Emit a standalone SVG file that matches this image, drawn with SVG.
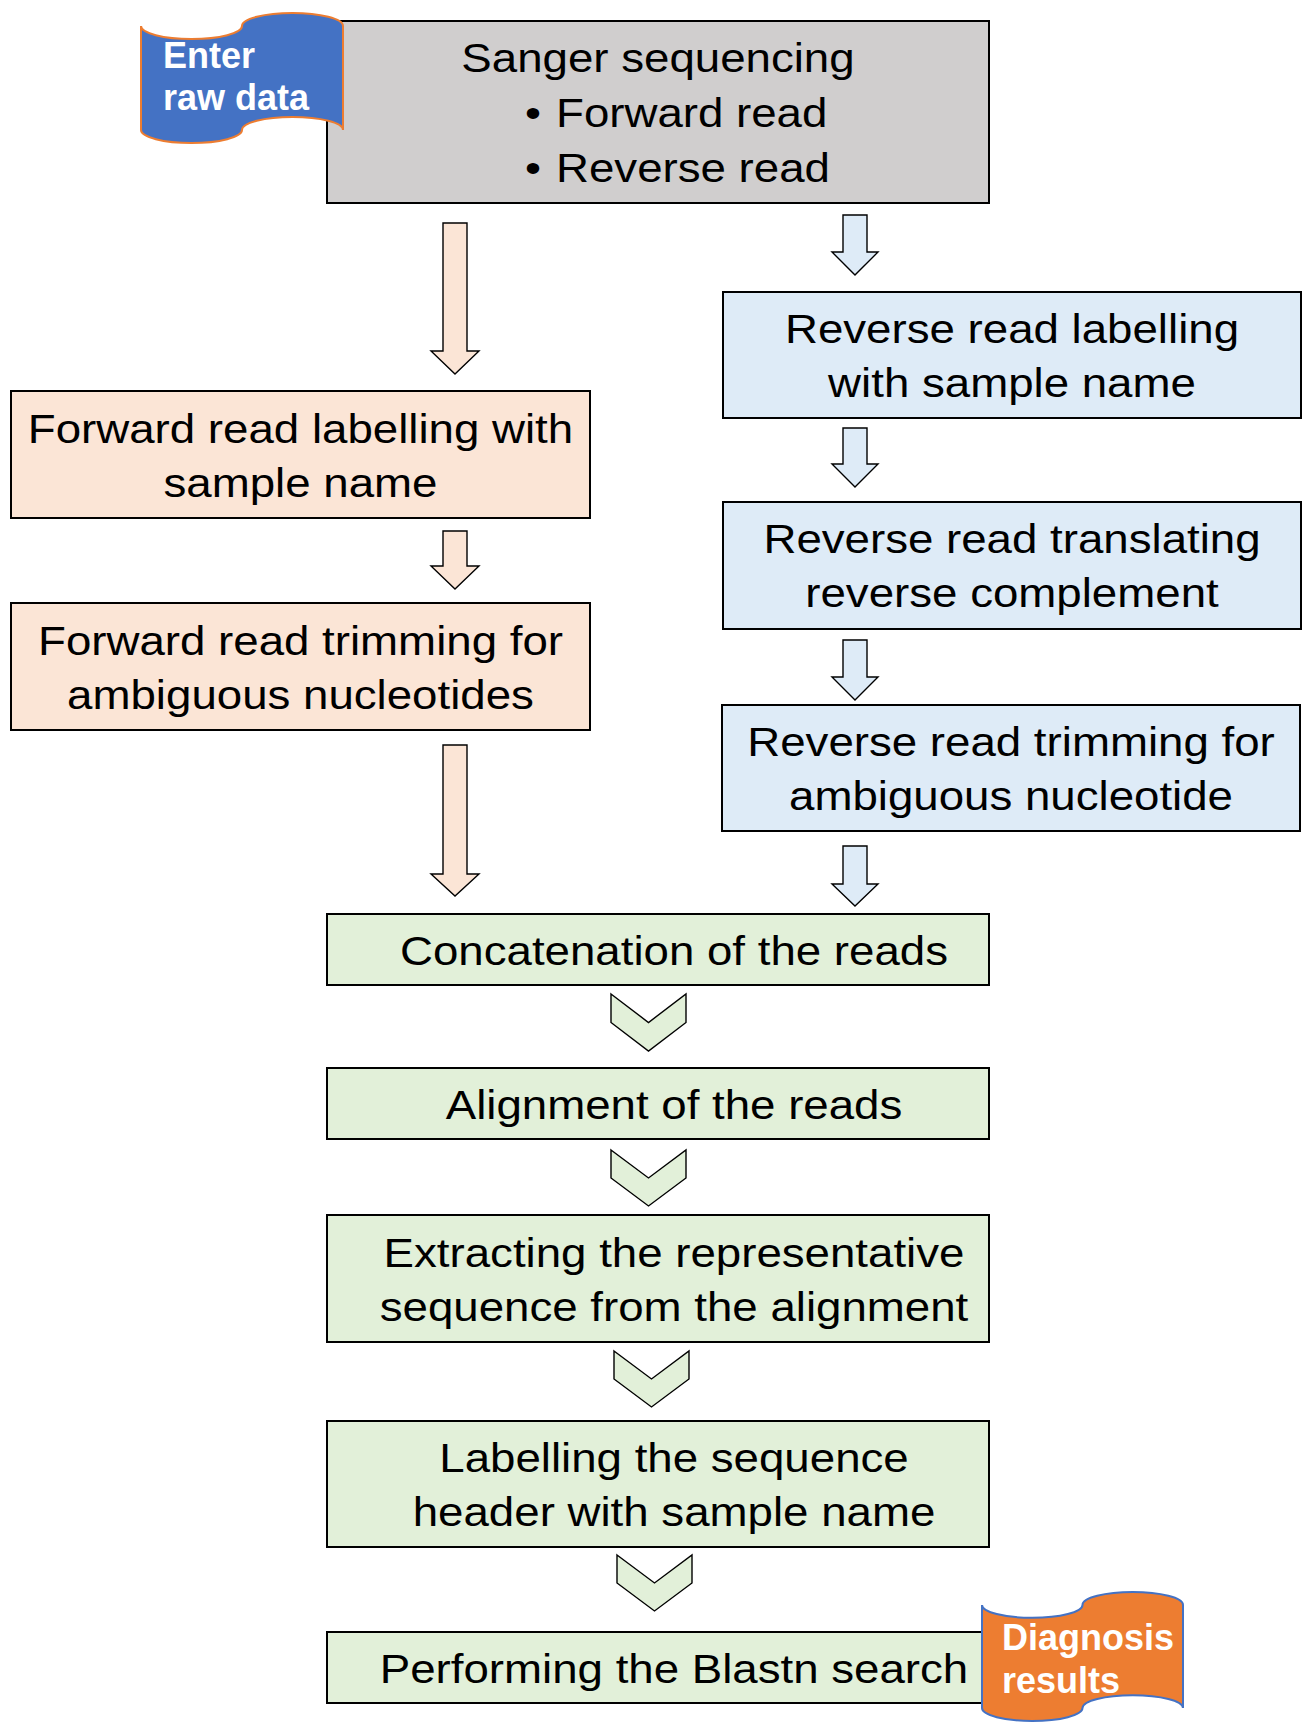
<svg xmlns="http://www.w3.org/2000/svg" width="1311" height="1730" viewBox="0 0 1311 1730">
<style>
.box{stroke:#000;stroke-width:2}
.gray{fill:#D0CECE}.peach{fill:#FBE5D6}.blue{fill:#DEEBF7}.green{fill:#E2F0D9}
.arr{stroke:#000;stroke-width:1.4;stroke-linejoin:miter}
.t{font-family:"Liberation Sans",Arial,sans-serif;font-size:41.5px;fill:#000;text-anchor:middle}
.ts{font-family:"Liberation Sans",Arial,sans-serif;font-size:41.5px;fill:#000;text-anchor:start}
.w{font-family:"Liberation Sans",Arial,sans-serif;font-weight:bold;fill:#fff;text-anchor:start}
</style>
<rect width="1311" height="1730" fill="#fff"/>
<g id="connectors">
<path class="arr peach" d="M443,223 H467 V351 H479 L455,374 L431,351 H443 Z"/>
<path class="arr peach" d="M443,531 H467 V566 H479 L455,589 L431,566 H443 Z"/>
<path class="arr peach" d="M443,745 H467 V874 H479 L455,896 L431,874 H443 Z"/>
<path class="arr blue" d="M843,215 H867 V252 H878 L855,275 L832,252 H843 Z"/>
<path class="arr blue" d="M843,428 H867 V464 H878 L855,487 L832,464 H843 Z"/>
<path class="arr blue" d="M843,640 H867 V677 H878 L855,700 L832,677 H843 Z"/>
<path class="arr blue" d="M843,846 H867 V884 H878 L855,906 L832,884 H843 Z"/>
<path class="arr green" d="M611,994 L648.5,1022.5 L686,994 L686,1022.5 L648.5,1051 L611,1022.5 Z"/>
<path class="arr green" d="M611,1150 L648.5,1178 L686,1150 L686,1178 L648.5,1206 L611,1178 Z"/>
<path class="arr green" d="M614,1351 L651.5,1379 L689,1351 L689,1379 L651.5,1407 L614,1379 Z"/>
<path class="arr green" d="M617,1555 L654.5,1583 L692,1555 L692,1583 L654.5,1611 L617,1583 Z"/>
</g>
<g id="sanger">
<rect class="box gray" x="327" y="21" width="662" height="182"/>
<text class="t" transform="translate(658,72) scale(1.1,1)">Sanger sequencing</text>
<text class="t" transform="translate(533,127) scale(1.1,1)">•</text>
<text class="ts" transform="translate(556,127) scale(1.1,1)">Forward read</text>
<text class="t" transform="translate(533,182) scale(1.1,1)">•</text>
<text class="ts" transform="translate(556,182) scale(1.1,1)">Reverse read</text>
</g>
<g id="enter-raw-data">
<path d="M141,26 A50.5,13 0 0 0 242,26 A50.5,13 0 0 1 343,26 L343,130 A50.5,13 0 0 0 242,130 A50.5,13 0 0 1 141,130 Z" fill="#4472C4" stroke="#ED7D31" stroke-width="2"/>
<text class="w" x="163" y="68" font-size="36">Enter</text>
<text class="w" x="163" y="110" font-size="36">raw data</text>
</g>
<g id="fwd-label">
<rect class="box peach" x="11" y="391" width="579" height="127"/>
<text class="t" transform="translate(300.5,443) scale(1.1,1)">Forward read labelling with</text>
<text class="t" transform="translate(300.5,497) scale(1.1,1)">sample name</text>
</g>
<g id="fwd-trim">
<rect class="box peach" x="11" y="603" width="579" height="127"/>
<text class="t" transform="translate(300.5,655) scale(1.1,1)">Forward read trimming for</text>
<text class="t" transform="translate(300.5,709) scale(1.1,1)">ambiguous nucleotides</text>
</g>
<g id="rev-label">
<rect class="box blue" x="723" y="292" width="578" height="126"/>
<text class="t" transform="translate(1012,343) scale(1.1,1)">Reverse read labelling</text>
<text class="t" transform="translate(1012,397) scale(1.1,1)">with sample name</text>
</g>
<g id="rev-translate">
<rect class="box blue" x="723" y="502" width="578" height="127"/>
<text class="t" transform="translate(1012,553) scale(1.1,1)">Reverse read translating</text>
<text class="t" transform="translate(1012,607) scale(1.1,1)">reverse complement</text>
</g>
<g id="rev-trim">
<rect class="box blue" x="722" y="705" width="578" height="126"/>
<text class="t" transform="translate(1011,756) scale(1.1,1)">Reverse read trimming for</text>
<text class="t" transform="translate(1011,810) scale(1.1,1)">ambiguous nucleotide</text>
</g>
<g id="concat">
<rect class="box green" x="327" y="914" width="662" height="71"/>
<text class="t" transform="translate(674,965) scale(1.1,1)">Concatenation of the reads</text>
</g>
<g id="align">
<rect class="box green" x="327" y="1068" width="662" height="71"/>
<text class="t" transform="translate(674,1119) scale(1.1,1)">Alignment of the reads</text>
</g>
<g id="extract">
<rect class="box green" x="327" y="1215" width="662" height="127"/>
<text class="t" transform="translate(674,1267) scale(1.1,1)">Extracting the representative</text>
<text class="t" transform="translate(674,1321) scale(1.1,1)">sequence from the alignment</text>
</g>
<g id="label-header">
<rect class="box green" x="327" y="1421" width="662" height="126"/>
<text class="t" transform="translate(674,1472) scale(1.1,1)">Labelling the sequence</text>
<text class="t" transform="translate(674,1526) scale(1.1,1)">header with sample name</text>
</g>
<g id="blastn">
<rect class="box green" x="327" y="1632" width="662" height="71"/>
<text class="t" transform="translate(674,1683) scale(1.1,1)">Performing the Blastn search</text>
</g>
<g id="diagnosis-results">
<path d="M982,1604.9 A50.25,12.9 0 0 0 1082.5,1604.9 A50.25,12.9 0 0 1 1183,1604.9 L1183,1708.1 A50.25,12.9 0 0 0 1082.5,1708.1 A50.25,12.9 0 0 1 982,1708.1 Z" fill="#ED7D31" stroke="#4472C4" stroke-width="2"/>
<text class="w" x="1002" y="1650" font-size="36">Diagnosis</text>
<text class="w" x="1002" y="1693" font-size="36">results</text>
</g>
</svg>
